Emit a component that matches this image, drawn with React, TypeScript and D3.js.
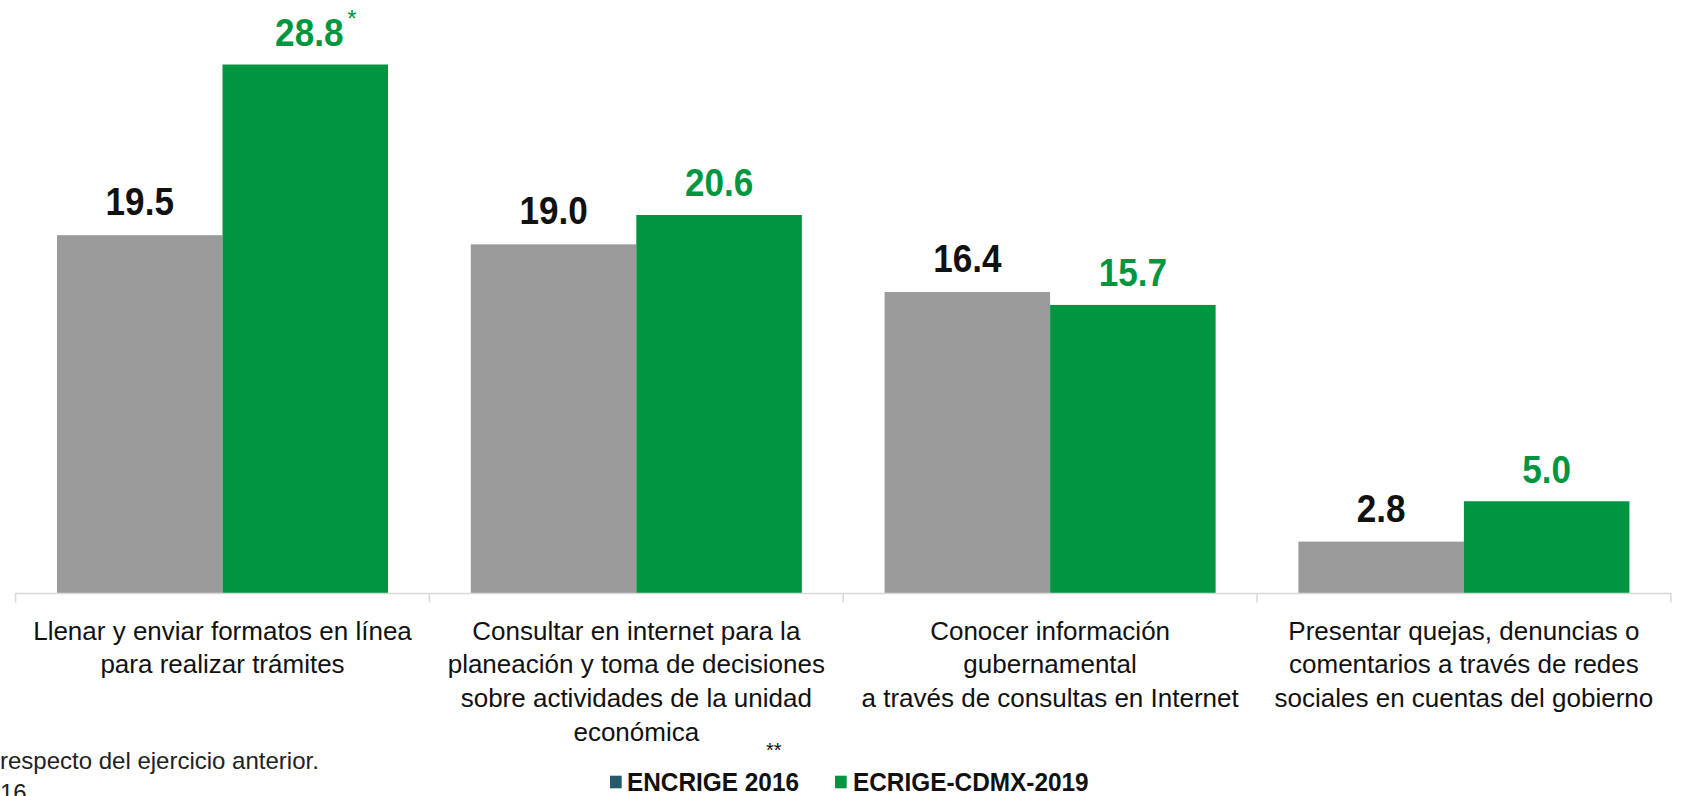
import React from "react";
import * as d3 from "d3";

const categories: string[][] = [
  ["Llenar y enviar formatos en línea", "para realizar trámites"],
  ["Consultar en internet para la", "planeación y toma de decisiones", "sobre actividades de la unidad", "económica"],
  ["Conocer información", "gubernamental", "a través de consultas en Internet"],
  ["Presentar quejas, denuncias o", "comentarios a través de redes", "sociales en cuentas del gobierno"],
];
const series2016: number[] = [19.5, 19.0, 16.4, 2.8];
const series2019: number[] = [28.8, 20.6, 15.7, 5.0];
const marks2019: string[] = ["*", "", "", ""];
const seriesNames: string[] = ["ENCRIGE 2016", "ECRIGE-CDMX-2019"];
const footnotes: string[] = ["respecto del ejercicio anterior.", "16"];

const W = 1683;
const H = 796;
const GRAY = "#9b9b9b";
const GREEN = "#009640";
const LEGEND_DARK = "#235b6b";
const FONT = "'Liberation Sans', Arial, sans-serif";

function NText(props: {
  x: number; y: number; sx: number; size: number; bold?: boolean; fill: string; anchor?: string; children: React.ReactNode;
}) {
  const { x, y, sx, size, bold, fill, anchor, children } = props;
  return (
    <text
      transform={`translate(${x},${y}) scale(${sx},1)`}
      textAnchor={anchor || "start"}
      fontFamily={FONT}
      fontWeight={bold ? "bold" : "normal"}
      fontSize={size}
      fill={fill}
    >
      {children}
    </text>
  );
}

export default function App() {
  const x0 = 15.6;
  const x1 = 1670.8;
  const baseY = 593;
  const x = d3.scaleBand<number>().domain(d3.range(categories.length)).range([x0, x1]).paddingInner(0.2).paddingOuter(0.1);
  const step = x.step();
  const bw = x.bandwidth() / 2;
  const y = d3.scaleLinear().domain([0, 30]).range([baseY, baseY - 30 * 18.35]);
  const fmt = d3.format(".1f");

  return (
    <div style={{ position: "fixed", left: 0, top: 0, width: W, height: H, background: "#fff", overflow: "hidden" }}>
      <svg width={W} height={H} style={{ display: "block" }}>
        {categories.map((lines, i) => {
          const bx = x(i)!;
          const v1 = series2016[i];
          const v2 = series2019[i];
          const labelShift = marks2019[i] ? 4 : 0;
          return (
            <g key={i}>
              <rect x={bx} y={y(v1)} width={bw} height={baseY - y(v1)} fill={GRAY} />
              <rect x={bx + bw} y={y(v2)} width={bw} height={baseY - y(v2)} fill={GREEN} />
              <NText x={bx + bw / 2} y={y(v1) - 20} sx={0.9} size={39} bold fill="#111" anchor="middle">
                {fmt(v1)}
              </NText>
              <NText x={bx + bw * 1.5 + labelShift} y={y(v2) - 18.5} sx={0.9} size={39} bold fill={GREEN} anchor="middle">
                {fmt(v2)}
              </NText>
              {marks2019[i] && (
                <NText x={bx + bw * 1.5 + 42} y={y(v2) - 38} sx={1} size={24} fill={GREEN}>
                  {marks2019[i]}
                </NText>
              )}
              {lines.map((ln, j) => (
                <NText key={j} x={bx + bw} y={639.5 + j * 33.7} sx={1.0} size={26} fill="#111" anchor="middle">
                  {ln}
                </NText>
              ))}
            </g>
          );
        })}
        <line x1={x0} x2={x1} y1={baseY + 0.5} y2={baseY + 0.5} stroke="#d9d9d9" strokeWidth={1.5} />
        {d3.range(categories.length + 1).map((k) => (
          <line key={k} x1={x0 + k * step} x2={x0 + k * step} y1={baseY} y2={baseY + 9.5} stroke="#d9d9d9" strokeWidth={1.5} />
        ))}
        <NText x={766} y={757} sx={1} size={20} fill="#111">**</NText>
        <rect x={610} y={775.7} width={11.7} height={12.6} fill={LEGEND_DARK} />
        <NText x={627} y={790.7} sx={0.92} size={26.5} bold fill="#111">{seriesNames[0]}</NText>
        <rect x={835} y={775.7} width={11.7} height={12.6} fill={GREEN} />
        <NText x={853} y={790.7} sx={0.92} size={26.5} bold fill="#111">{seriesNames[1]}</NText>
        <NText x={0} y={769} sx={1} size={24} fill="#222">{footnotes[0]}</NText>
        <NText x={0} y={800.5} sx={1} size={24} fill="#222">{footnotes[1]}</NText>
      </svg>
    </div>
  );
}
